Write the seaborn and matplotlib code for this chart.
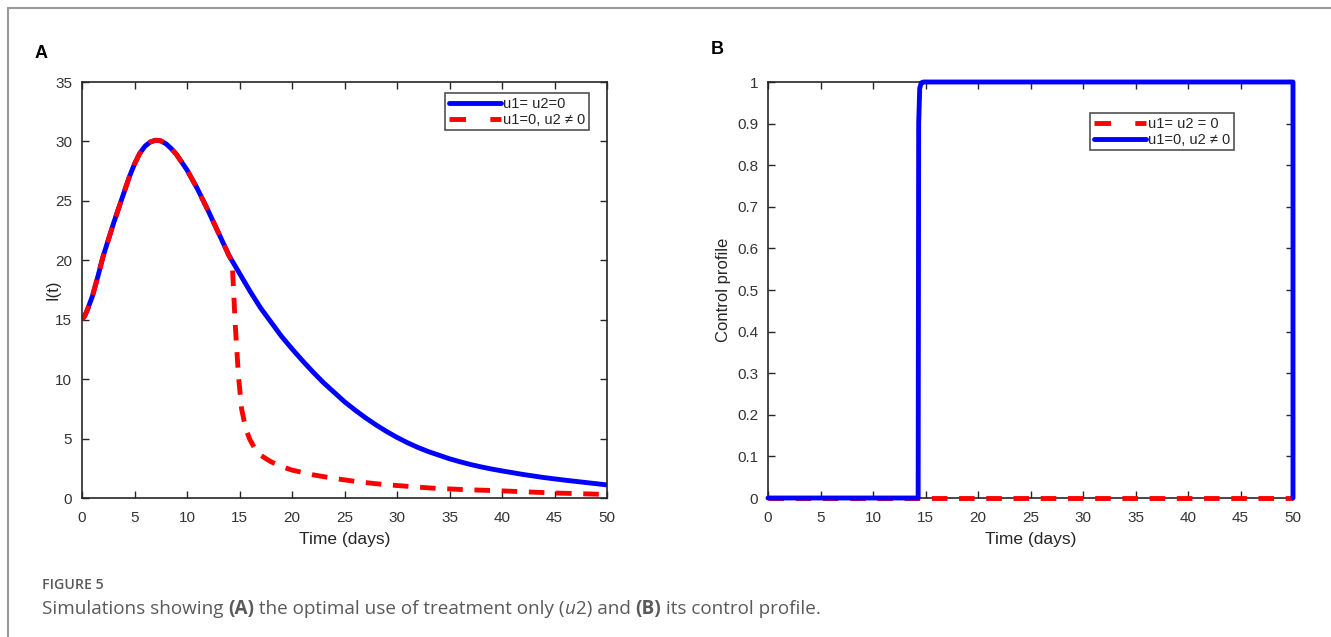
import numpy as np
import pandas as pd
import matplotlib
matplotlib.use("Agg")
import matplotlib.pyplot as plt
import seaborn as sns
from matplotlib.lines import Line2D

# ---------------- data ----------------
# Panel A: infected I(t)
t_blue = [0, 0.25, 0.5, 1, 1.5, 2, 2.5, 3, 3.5, 4, 4.5, 5, 5.5, 6, 6.5, 7, 7.5, 8, 8.5,
          9, 10, 11, 12, 13, 14, 15, 16, 17, 18, 19, 20, 21, 22, 23, 24, 25, 26, 27,
          28, 29, 30, 31, 32, 33, 34, 35, 36, 37, 38, 39, 40, 42, 44, 46, 48, 50]
i_blue = [15.0, 15.3, 15.8, 17.0, 18.6, 20.3, 21.7, 23.1, 24.4, 25.7, 27.0, 28.1, 29.0,
          29.6, 29.95, 30.1, 30.05, 29.8, 29.4, 28.9, 27.6, 26.0, 24.2, 22.3, 20.4,
          18.9, 17.4, 16.0, 14.8, 13.6, 12.55, 11.55, 10.6, 9.7, 8.9, 8.1, 7.4, 6.75,
          6.15, 5.6, 5.1, 4.65, 4.25, 3.9, 3.6, 3.3, 3.05, 2.82, 2.62, 2.44, 2.28,
          1.98, 1.72, 1.5, 1.3, 1.1]
t_red = [0, 0.25, 0.5, 1, 1.5, 2, 2.5, 3, 3.5, 4, 4.5, 5, 5.5, 6, 6.5, 7, 7.5, 8, 8.5,
         9, 10, 11, 12, 13, 14, 14.3, 14.6, 14.9, 15.2, 15.6, 16, 16.5, 17, 18, 19,
         20, 22, 24, 26, 28, 30, 33, 36, 40, 45, 50]
i_red = [15.0, 15.3, 15.8, 17.0, 18.6, 20.3, 21.7, 23.1, 24.4, 25.7, 27.0, 28.1, 29.0,
         29.6, 29.95, 30.1, 30.05, 29.8, 29.4, 28.9, 27.6, 26.0, 24.2, 22.3, 20.4,
         19.9, 14.5, 10.3, 7.5, 5.8, 4.9, 4.1, 3.6, 3.05, 2.65, 2.35, 1.95, 1.65,
         1.4, 1.2, 1.05, 0.85, 0.72, 0.6, 0.42, 0.3]

# Panel B: control profile
t_ctrl_u2 = [0, 14.3, 14.35, 14.45, 14.6, 14.8, 50, 50]
u_ctrl_u2 = [0, 0, 0.9, 0.985, 0.998, 1.0, 1.0, 0]
t_ctrl_0 = [0, 50]
u_ctrl_0 = [0, 0]

legend_a = ["u1= u2=0", "u1=0, u2 \u2260 0"]
legend_b = ["u1= u2 = 0", "u1=0, u2 \u2260 0"]
xticks = [0, 5, 10, 15, 20, 25, 30, 35, 40, 45, 50]
yticks_a = [0, 5, 10, 15, 20, 25, 30, 35]
yticks_b = [0, 0.1, 0.2, 0.3, 0.4, 0.5, 0.6, 0.7, 0.8, 0.9, 1]
ytick_labels_b = ["0", "0.1", "0.2", "0.3", "0.4", "0.5", "0.6", "0.7", "0.8", "0.9", "1"]

# ---------------- style ----------------
sns.set_theme(style="white")
plt.rcParams["font.family"] = ["Liberation Sans", "DejaVu Sans"]

W, H = 1331, 637
fig = plt.figure(figsize=(W / 100, H / 100), dpi=100)
fig.patch.set_facecolor("white")

BLUE = "#0000ff"
RED = "#ff0000"
AX_COL = "#262626"
LW = 3.5
DASH = (0, (3.2, 2.4))
LEG_DASH = (0, (3.4, 5.0))

def ax_rect(l, t, r, b):
    return [l / W, 1 - b / H, (r - l) / W, (b - t) / H]

axA = fig.add_axes(ax_rect(82, 82, 607, 498))
axB = fig.add_axes(ax_rect(768, 82, 1293, 498))

dfA_b = pd.DataFrame({"t": t_blue, "I": i_blue})
dfA_r = pd.DataFrame({"t": t_red, "I": i_red})
sns.lineplot(data=dfA_b, x="t", y="I", ax=axA, color=BLUE, linewidth=LW,
             estimator=None, sort=False, legend=False, solid_capstyle="butt",
             solid_joinstyle="round")
sns.lineplot(data=dfA_r, x="t", y="I", ax=axA, color=RED, linewidth=LW,
             estimator=None, sort=False, legend=False, linestyle=DASH,
             dash_capstyle="butt")

dfB_0 = pd.DataFrame({"t": t_ctrl_0, "u": u_ctrl_0})
dfB_2 = pd.DataFrame({"t": t_ctrl_u2, "u": u_ctrl_u2})
sns.lineplot(data=dfB_0, x="t", y="u", ax=axB, color=RED, linewidth=LW,
             estimator=None, sort=False, legend=False, linestyle=DASH,
             dash_capstyle="butt", clip_on=False, zorder=3)
sns.lineplot(data=dfB_2, x="t", y="u", ax=axB, color=BLUE, linewidth=LW,
             estimator=None, sort=False, legend=False, solid_joinstyle="round",
             clip_on=False, zorder=4)

for ax in (axA, axB):
    ax.set_xlim(0, 50)
    ax.set_xticks(xticks)
    ax.set_xticklabels([str(v) for v in xticks])
    ax.tick_params(axis="both", direction="in", length=5, width=1.0, color=AX_COL,
                   labelsize=11, labelcolor="#333333", top=True, right=True,
                   bottom=True, left=True)
    ax.tick_params(axis="x", pad=9.5)
    ax.tick_params(axis="y", pad=7)
    for s in ax.spines.values():
        s.set_visible(True)
        s.set_color(AX_COL)
        s.set_linewidth(1.2)
        s.set_zorder(2.5)
    ax.set_xlabel("Time (days)", fontsize=12.5, color="#262626")
    ax.xaxis.set_label_coords(0.5, -(532 - 498) / 416)
    ax.set_facecolor("white")
    ax.grid(False)

axA.set_ylim(0, 35)
axA.set_yticks(yticks_a)
axA.set_yticklabels([str(v) for v in yticks_a])
axA.set_ylabel("I(t)", fontsize=12, color="#262626")
axA.yaxis.set_label_coords((60 - 82) / 525, 0.5)

axB.set_ylim(0, 1)
axB.set_yticks(yticks_b)
axB.set_yticklabels(ytick_labels_b)
axB.set_ylabel("Control profile", fontsize=12, color="#262626")
axB.yaxis.set_label_coords((731 - 768) / 525, 0.5)

# legends
hA = [Line2D([], [], color=BLUE, lw=LW),
      Line2D([], [], color=RED, lw=LW, linestyle=LEG_DASH)]
legA = axA.legend(hA, legend_a, loc="upper left",
                  bbox_to_anchor=((445 - 82) / 525, (498 - 93) / 416),
                  fontsize=10.5, frameon=True, fancybox=False, edgecolor="#262626",
                  handlelength=3.6, handletextpad=0.1, borderpad=0.25,
                  labelspacing=0.15, borderaxespad=0)
legA.get_frame().set_linewidth(1.2)
hB = [Line2D([], [], color=RED, lw=LW, linestyle=LEG_DASH),
      Line2D([], [], color=BLUE, lw=LW)]
legB = axB.legend(hB, legend_b, loc="upper left",
                  bbox_to_anchor=((1090 - 768) / 525, (498 - 113) / 416),
                  fontsize=10.5, frameon=True, fancybox=False, edgecolor="#262626",
                  handlelength=3.6, handletextpad=0.1, borderpad=0.25,
                  labelspacing=0.15, borderaxespad=0)
legB.get_frame().set_linewidth(1.2)

# panel letters
fig.text(35 / W, 1 - 53 / H, "A", fontsize=13, fontweight="bold", color="black",
         va="center", ha="left")
fig.text(711 / W, 1 - 50 / H, "B", fontsize=13, fontweight="bold", color="black",
         va="center", ha="left")

# frame lines (top and left)
fig.add_artist(Line2D([8 / W, 1], [1 - 8 / H, 1 - 8 / H], color="#9a9a9a", lw=1.5,
                      transform=fig.transFigure))
fig.add_artist(Line2D([8 / W, 8 / W], [0, 1 - 8 / H], color="#9a9a9a", lw=1.5,
                      transform=fig.transFigure))

# caption
CAP = "#5a5a5a"
cap_font = ["Open Sans", "DejaVu Sans"]
fig.text(42 / W, 1 - 585 / H, "FIGURE 5", fontsize=10.2, fontweight="semibold",
         color=CAP, family=cap_font, va="center", ha="left")

segments = [("Simulations showing ", "normal", "normal"),
            ("(A)", "bold", "normal"),
            (" the optimal use of treatment only (", "normal", "normal"),
            ("u", "normal", "italic"),
            ("2) and ", "normal", "normal"),
            ("(B)", "bold", "normal"),
            (" its control profile.", "normal", "normal")]
fig.canvas.draw()
renderer = fig.canvas.get_renderer()
x = 42.0
for txt, wt, st in segments:
    tt = fig.text(x / W, 1 - 609 / H, txt, fontsize=13.55, fontweight=wt, style=st,
                  color=CAP, family=cap_font, va="center", ha="left")
    bb = tt.get_window_extent(renderer=renderer)
    x += bb.width

fig.savefig("out.png", dpi=100, facecolor="white")
